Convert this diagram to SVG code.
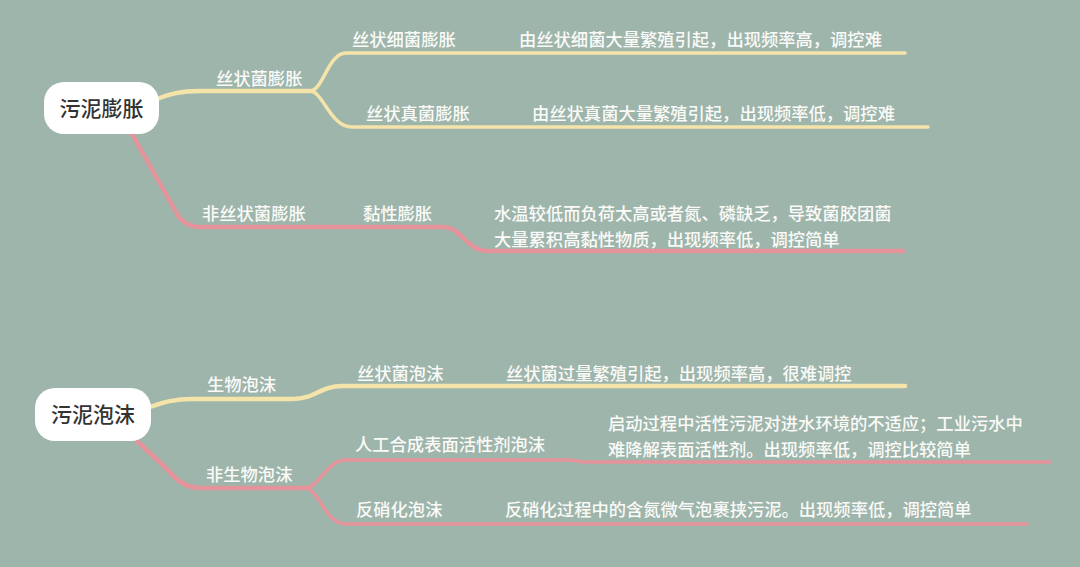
<svg xmlns="http://www.w3.org/2000/svg" width="1080" height="567" viewBox="0 0 1080 567">
  <style>
    .bg { fill: #9EB5AC; }
    .root rect { fill: #FFFFFF; }
    .root text { fill: #333333; font-family: "Noto Sans CJK SC", "Noto Sans", sans-serif; font-size: 21px; font-weight: 500; text-anchor: middle; }
    .lbl { fill: #FAFAF7; font-family: "Noto Sans CJK SC", "Noto Sans", sans-serif; font-size: 17.3px; font-weight: 500; }
    .y { fill: none; stroke: #F4E4AA; stroke-linecap: round; stroke-linejoin: round; }
    .p { fill: none; stroke: #E5939A; stroke-linecap: round; stroke-linejoin: round; }
    .w1 { stroke-width: 4.5; }
    .w2 { stroke-width: 3.5; }
  </style>
  <rect class="bg" x="0" y="0" width="1080" height="567"/>

  <g id="connectors">
    <path class="y w1" d="M157,99 C170,94 180,91 200,91 L313,91"/>
    <path class="y w2" d="M310,91 C323,91 328,53 346,53 L905,53"/>
    <path class="y w2" d="M310,91 C323,91 330,127 352,127 L928,127"/>
    <path class="p w1" d="M132,134 L176,212 Q184,227 200,227 L443,227 C462,227 466,251 488,251 L903,251"/>

    <path class="y w1" d="M150,407 C164,402 175,399 192,399 L293,399 C315,399 320,386 342,386 L905,386"/>
    <path class="p w1" d="M137,441 L168,470 Q182,488 200,488 L307,488"/>
    <path class="p w2" d="M304,488 C320,488 326,460 346,460 L568,460 C575,460 578,462 586,462 L1050,462"/>
    <path class="p w2" d="M304,488 C320,488 324,524 346,524 L1027,524"/>
  </g>

  <g id="node-wuni-pengzhang" class="root">
    <rect x="44" y="82" width="115" height="52" rx="20"/>
    <text x="101.5" y="115.5">污泥膨胀</text>
  </g>
  <g id="node-sizhuangjun-pengzhang"><text class="lbl" x="216" y="85">丝状菌膨胀</text></g>
  <g id="node-sizhuang-xijun"><text class="lbl" x="352" y="46">丝状细菌膨胀</text></g>
  <g id="node-sizhuang-xijun-desc"><text class="lbl" x="519" y="46">由丝状细菌大量繁殖引起，出现频率高，调控难</text></g>
  <g id="node-sizhuang-zhenjun"><text class="lbl" x="366" y="120">丝状真菌膨胀</text></g>
  <g id="node-sizhuang-zhenjun-desc"><text class="lbl" x="532" y="120">由丝状真菌大量繁殖引起，出现频率低，调控难</text></g>
  <g id="node-fei-sizhuangjun"><text class="lbl" x="202" y="220">非丝状菌膨胀</text></g>
  <g id="node-nianxing"><text class="lbl" x="363" y="220">黏性膨胀</text></g>
  <g id="node-nianxing-desc">
    <text class="lbl" x="494" y="220">水温较低而负荷太高或者氮、磷缺乏，导致菌胶团菌</text>
    <text class="lbl" x="494" y="246">大量累积高黏性物质，出现频率低，调控简单</text>
  </g>

  <g id="node-wuni-paomo" class="root">
    <rect x="35" y="388" width="116" height="53" rx="20"/>
    <text x="93" y="422">污泥泡沫</text>
  </g>
  <g id="node-shengwu-paomo"><text class="lbl" x="207" y="391">生物泡沫</text></g>
  <g id="node-sizhuangjun-paomo"><text class="lbl" x="357" y="380">丝状菌泡沫</text></g>
  <g id="node-sizhuangjun-paomo-desc"><text class="lbl" x="506" y="380">丝状菌过量繁殖引起，出现频率高，很难调控</text></g>
  <g id="node-fei-shengwu-paomo"><text class="lbl" x="206" y="481">非生物泡沫</text></g>
  <g id="node-rengong"><text class="lbl" x="355" y="451">人工合成表面活性剂泡沫</text></g>
  <g id="node-rengong-desc">
    <text class="lbl" x="608" y="430">启动过程中活性污泥对进水环境的不适应；工业污水中</text>
    <text class="lbl" x="608" y="456">难降解表面活性剂。出现频率低，调控比较简单</text>
  </g>
  <g id="node-fanxiaohua"><text class="lbl" x="356" y="516">反硝化泡沫</text></g>
  <g id="node-fanxiaohua-desc"><text class="lbl" x="505" y="516">反硝化过程中的含氮微气泡裹挟污泥。出现频率低，调控简单</text></g>
</svg>
